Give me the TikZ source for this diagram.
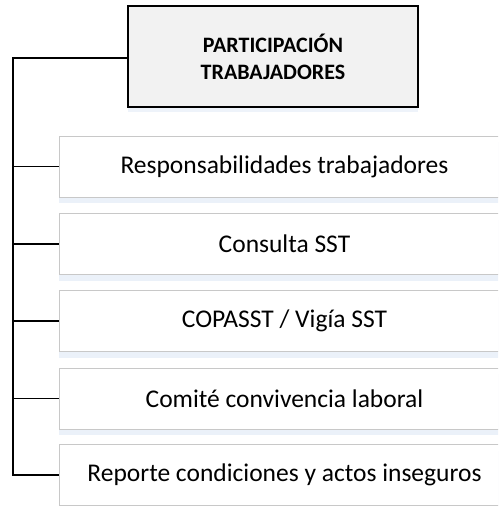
\documentclass[tikz,border=0pt]{standalone}
\usepackage{fontspec}
\setmainfont{Carlito}
\usetikzlibrary{shadows}

\definecolor{boxgray}{HTML}{F2F2F2}
\definecolor{edgegray}{HTML}{C8C8C8}
\definecolor{shadowblue}{HTML}{E3EBF6}

\begin{document}
\begin{tikzpicture}[x=1pt,y=-1pt]

      \clip (0,0) rectangle (498,506);

      \begin{scope}[every node/.style={draw=edgegray,line width=1pt,fill=white,
          minimum width=451pt,minimum height=61pt,inner sep=0pt,
          font=\fontsize{25.5}{28}\selectfont,
          drop shadow={shadow xshift=0pt,shadow yshift=-6pt,fill=shadowblue,opacity=0.7}}]
        \node (1)  at (284.5,166.5)  {Responsabilidades trabajadores};
        \node (2)  at (284.5,244)    {Consulta SST};
        \node (3)  at (284.5,321)    {COPASST / Vigía SST};
        \node (4)  at (284.5,398.5)  {Comité convivencia laboral};
        \node (5)  at (284.5,475)    {Reporte condiciones y actos inseguros};
      \end{scope}

      \node[draw,line width=1.2pt,fill=boxgray,minimum width=290pt,minimum height=101pt,
        align=center,font=\bfseries\fontsize{22}{27}\selectfont,
        drop shadow={shadow xshift=0pt,shadow yshift=-5pt,fill=shadowblue,opacity=0.6}]
        (top) at (273,56.5) {PARTICIPACIÓN\\TRABAJADORES};

      \coordinate (trunk) at (13,58);

      \draw[line width=1.8pt] (top.west |- trunk) -- (trunk) |- (5.west);

      \begin{scope}[every edge/.style={draw,line width=1.4pt}]
        \path (trunk |- 1.west)  edge (1.west);
        \path (trunk |- 2.west)  edge (2.west);
        \path (trunk |- 3.west)  edge (3.west);
        \path (trunk |- 4.west)  edge (4.west);
      \end{scope}

    \end{tikzpicture}
\end{document}
